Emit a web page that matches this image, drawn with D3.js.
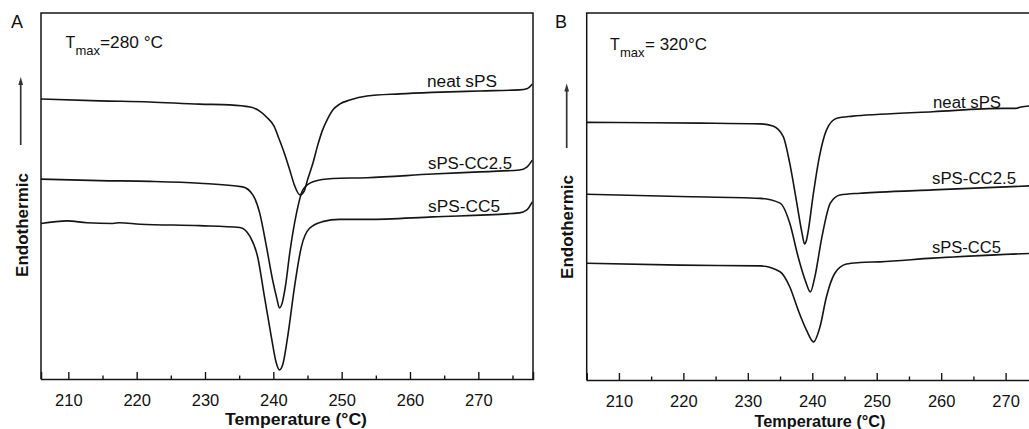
<!DOCTYPE html>
<html>
<head>
<meta charset="utf-8">
<script src="https://cdn.jsdelivr.net/npm/d3@7/dist/d3.min.js"></script>
<style>
  html, body { margin: 0; padding: 0; background: #fff; }
  svg { display: block; }
  text { font-family: "Liberation Sans", Arial, Helvetica, sans-serif; fill: #111; }
</style>
</head>
<body>
<div id="chart"></div>
<script>
// ---------- DATA (temperature °C, heat flow in arbitrary units) ----------
const majorTicks = [210, 220, 230, 240, 250, 260, 270];
const minorTicks = [215, 225, 235, 245, 255, 265, 275];
const seriesNames = ["neat sPS", "sPS-CC2.5", "sPS-CC5"];
const panelTitles = ["A", "B"];
const tmaxValues = ["=280 °C", "= 320°C"];

const aNeat = [[206.0,76.5],[214.6,76.0],[221.9,75.7],[229.2,75.1],[233.6,74.9],[236.6,74.3],[238.0,73.2],[239.0,71.6],[240.1,69.1],[240.9,65.3],[241.7,61.2],[242.4,57.1],[243.1,52.9],[243.9,50.3],[244.5,51.3],[245.0,54.4],[245.8,59.0],[246.5,63.9],[247.2,68.0],[248.0,71.3],[248.7,73.5],[249.7,75.1],[251.2,76.2],[253.7,77.3],[258.5,77.9],[263.3,78.3],[270.2,78.7],[276.0,79.0],[277.2,79.4],[277.9,80.6]];
const aCC25 = [[206.0,54.6],[214.6,54.2],[221.9,54.0],[229.2,53.5],[235.5,52.5],[237.0,50.3],[238.0,45.4],[239.0,36.1],[239.9,27.0],[240.5,22.1],[240.9,19.4],[241.3,20.8],[241.8,25.7],[242.4,34.4],[243.4,45.4],[244.3,51.6],[245.8,53.9],[248.7,54.8],[253.7,55.0],[263.3,56.0],[270.2,56.6],[276.0,57.1],[277.1,57.9],[277.9,59.8]];
const aCC5 = [[206.0,42.5],[209.8,43.2],[212.7,42.7],[216.5,42.5],[217.5,42.7],[220.5,42.3],[229.2,41.9],[235.1,41.4],[236.6,38.9],[237.7,33.4],[238.7,22.5],[239.7,11.6],[240.4,4.6],[240.9,2.5],[241.4,4.1],[242.1,11.6],[243.1,25.2],[244.1,36.1],[245.3,41.2],[247.2,43.0],[249.7,43.6],[253.7,43.6],[263.3,44.3],[276.0,45.4],[277.1,46.2],[277.9,48.4]];

const bNeat = [[205.0,70.2],[214.8,70.1],[222.6,70.0],[231.9,69.8],[233.9,69.2],[235.5,66.3],[236.5,59.1],[237.6,48.2],[238.4,40.1],[238.8,37.1],[239.1,38.1],[239.4,40.9],[240.1,49.9],[241.1,60.8],[242.2,68.1],[243.8,71.3],[246.3,71.9],[250.5,72.4],[258.7,73.1],[269.6,74.0],[271.6,74.0],[272.4,74.4],[273.8,74.7]];
const bCC25 = [[205.0,50.6],[219.5,50.0],[231.9,49.5],[235.0,48.2],[236.5,42.8],[237.8,33.6],[238.9,27.2],[239.7,24.0],[240.4,28.1],[241.5,39.0],[242.8,48.2],[244.3,50.4],[247.4,50.9],[250.5,51.2],[258.7,51.8],[273.8,52.9]];
const bCC5 = [[205.0,31.8],[219.5,31.3],[231.9,31.1],[235.0,29.5],[236.5,25.4],[237.8,19.1],[239.1,13.6],[240.2,10.4],[241.2,14.5],[242.2,22.7],[243.5,29.1],[245.3,31.6],[247.4,32.0],[250.5,32.2],[258.7,33.2],[273.8,34.5]];

// ---------- LAYOUT ----------
const W = 1029, H = 429;
const svg = d3.select("#chart").append("svg").attr("width", W).attr("height", H);

const panels = [
  { title: panelTitles[0], tmax: tmaxValues[0], series: [aNeat, aCC25, aCC5],
    xDomain: [206, 278], xRange: [41, 533], yRange: [379, 13],
    titlePos: [11, 28], tPos: [65.5, 47.5], maxPos: [75.5, 55], eqPos: [100, 47.5], eqLen: 63,
    labels: [[427, 86.5, 70], [428, 169, 84], [428, 211.5, 72]],
    arrow: { x: 20.7, y0: 145, y1: 77 }, yTitle: [27.5, 225], xTitle: [296, 425, 142], closed: true },
  { title: panelTitles[1], tmax: tmaxValues[1], series: [bNeat, bCC25, bCC5],
    xDomain: [205, 278], xRange: [586.7, 586.7 + 73 * 6.445], yRange: [380, 13],
    titlePos: [555, 28], tPos: [610, 49.5], maxPos: [620, 57], eqPos: [645, 49.5], eqLen: 62,
    labels: [[933, 108, 68], [932, 183.5, 84], [932, 252.5, 69]],
    arrow: { x: 566.7, y0: 148, y1: 83.5 }, yTitle: [572.5, 227], xTitle: [820, 426.5, 131], closed: false }
];

const ink = "#151515";

panels.forEach(p => {
  const x = d3.scaleLinear().domain(p.xDomain).range(p.xRange);
  const y = d3.scaleLinear().domain([0, 100]).range(p.yRange);
  const g = svg.append("g");

  // frame
  const x0 = p.xRange[0], x1 = p.xRange[1], yb = p.yRange[0], yt = p.yRange[1];
  g.append("path")
    .attr("d", `M${x0},${yb}V${yt}H${x1}` + (p.closed ? `V${yb}` : ""))
    .attr("fill", "none").attr("stroke", ink).attr("stroke-width", 1.5);

  // bottom axis with inward ticks
  const axis = d3.axisBottom(x).tickValues(majorTicks).tickSize(-7).tickPadding(15).tickFormat(d3.format("d"));
  const ag = g.append("g").attr("transform", `translate(0,${yb})`).call(axis);
  ag.select(".domain").attr("stroke", ink).attr("stroke-width", 1.5);
  ag.selectAll(".tick line").attr("stroke", ink).attr("stroke-width", 1.4);
  ag.selectAll(".tick text").attr("font-size", 16.5).attr("fill", "#111")
    .attr("font-family", '"Liberation Sans", Arial, sans-serif');
  const minorAxis = d3.axisBottom(x).tickValues(minorTicks).tickSize(-3.5).tickFormat("");
  const mg = g.append("g").attr("transform", `translate(0,${yb})`).call(minorAxis);
  mg.select(".domain").remove();
  mg.selectAll(".tick line").attr("stroke", ink).attr("stroke-width", 1.4);

  // curves
  const line = d3.line().x(d => x(d[0])).y(d => y(d[1])).curve(d3.curveMonotoneX);
  p.series.forEach(s => {
    g.append("path").datum(s).attr("d", line)
      .attr("fill", "none").attr("stroke", ink).attr("stroke-width", 1.6)
      .attr("stroke-linejoin", "round");
  });

  // series labels
  p.labels.forEach((l, i) => {
    g.append("text").attr("x", l[0]).attr("y", l[1]).attr("font-size", 16)
      .attr("textLength", l[2]).attr("lengthAdjust", "spacingAndGlyphs").text(seriesNames[i]);
  });

  // panel letter
  g.append("text").attr("x", p.titlePos[0]).attr("y", p.titlePos[1]).attr("font-size", 18).text(p.title);

  // T_max annotation
  g.append("text").attr("x", p.tPos[0]).attr("y", p.tPos[1]).attr("font-size", 16).text("T");
  g.append("text").attr("x", p.maxPos[0]).attr("y", p.maxPos[1]).attr("font-size", 13).text("max");
  g.append("text").attr("x", p.eqPos[0]).attr("y", p.eqPos[1]).attr("font-size", 16)
    .attr("textLength", p.eqLen).attr("lengthAdjust", "spacingAndGlyphs").text(p.tmax);

  // endothermic arrow
  g.append("line").attr("x1", p.arrow.x).attr("x2", p.arrow.x)
    .attr("y1", p.arrow.y0).attr("y2", p.arrow.y1 + 7)
    .attr("stroke", "#333").attr("stroke-width", 1.7);
  g.append("path")
    .attr("d", `M${p.arrow.x},${p.arrow.y1}L${p.arrow.x - 2.4},${p.arrow.y1 + 8}L${p.arrow.x + 2.4},${p.arrow.y1 + 8}Z`)
    .attr("fill", "#333");

  // y title
  g.append("text").attr("transform", `translate(${p.yTitle[0]},${p.yTitle[1]}) rotate(-90)`)
    .attr("text-anchor", "middle").attr("font-size", 17).attr("font-weight", "bold").text("Endothermic");

  // x title
  g.append("text").attr("x", p.xTitle[0]).attr("y", p.xTitle[1]).attr("text-anchor", "middle")
    .attr("font-size", 17).attr("font-weight", "bold")
    .attr("textLength", p.xTitle[2]).attr("lengthAdjust", "spacingAndGlyphs")
    .text("Temperature (°C)");
});
</script>
</body>
</html>
